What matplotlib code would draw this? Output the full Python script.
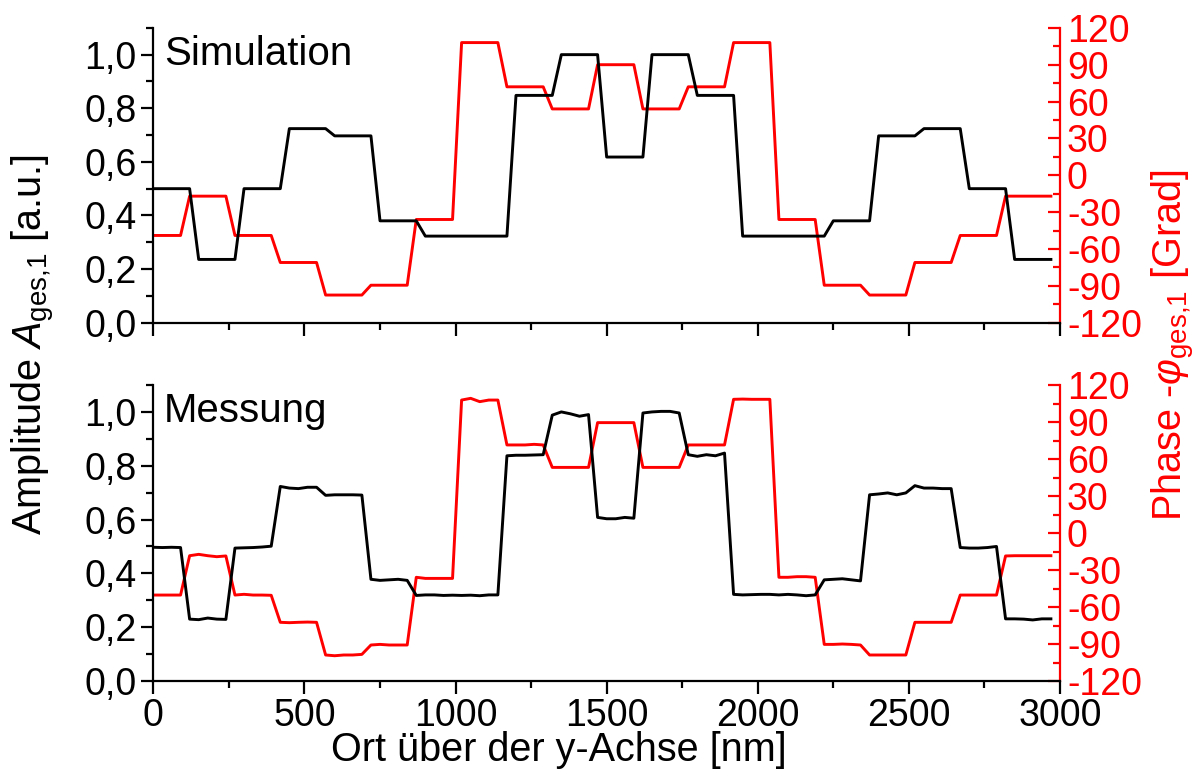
#!/usr/bin/env python3

import numpy as np
import matplotlib
matplotlib.use("Agg")
import matplotlib.pyplot as plt
from matplotlib.ticker import MultipleLocator

plt.rcParams["font.family"] = ["Liberation Sans", "DejaVu Sans"]
plt.rcParams["mathtext.fontset"] = "custom"
plt.rcParams["mathtext.rm"] = "Liberation Sans"
plt.rcParams["mathtext.it"] = "Liberation Sans:italic"
plt.rcParams["axes.unicode_minus"] = False

# position along y, 30 nm sampling
ort = np.arange(0, 3000, 30)

amp_sim = [
    0.50, 0.50, 0.50, 0.50, 0.50, 0.236, 0.236, 0.236, 0.236, 0.236,
    0.50, 0.50, 0.50, 0.50, 0.50, 0.724, 0.724, 0.724, 0.724, 0.724,
    0.697, 0.697, 0.697, 0.697, 0.697, 0.38, 0.38, 0.38, 0.38, 0.38,
    0.323, 0.323, 0.323, 0.323, 0.323, 0.323, 0.323, 0.323, 0.323, 0.323,
    0.848, 0.848, 0.848, 0.848, 0.848, 1.0, 1.0, 1.0, 1.0, 1.0,
    0.618, 0.618, 0.618, 0.618, 0.618, 1.0, 1.0, 1.0, 1.0, 1.0,
    0.848, 0.848, 0.848, 0.848, 0.848, 0.323, 0.323, 0.323, 0.323, 0.323,
    0.323, 0.323, 0.323, 0.323, 0.323, 0.38, 0.38, 0.38, 0.38, 0.38,
    0.697, 0.697, 0.697, 0.697, 0.697, 0.724, 0.724, 0.724, 0.724, 0.724,
    0.50, 0.50, 0.50, 0.50, 0.50, 0.236, 0.236, 0.236, 0.236, 0.236,
]

phase_sim = [
    -49, -49, -49, -49, -17, -17, -17, -17, -17, -49,
    -49, -49, -49, -49, -71, -71, -71, -71, -71, -97.5,
    -97.5, -97.5, -97.5, -97.5, -89.5, -89.5, -89.5, -89.5, -89.5, -36,
    -36, -36, -36, -36, 108, 108, 108, 108, 108, 72,
    72, 72, 72, 72, 54, 54, 54, 54, 54, 90,
    90, 90, 90, 90, 54, 54, 54, 54, 54, 72,
    72, 72, 72, 72, 108, 108, 108, 108, 108, -36,
    -36, -36, -36, -36, -89.5, -89.5, -89.5, -89.5, -89.5, -97.5,
    -97.5, -97.5, -97.5, -97.5, -71, -71, -71, -71, -71, -49,
    -49, -49, -49, -49, -17, -17, -17, -17, -17, -17,
]

amp_mess = [
    0.497, 0.496, 0.497, 0.496, 0.230, 0.228, 0.234, 0.230, 0.229, 0.494,
    0.495, 0.496, 0.498, 0.501, 0.723, 0.717, 0.715, 0.720, 0.720, 0.690,
    0.692, 0.692, 0.692, 0.691, 0.378, 0.374, 0.376, 0.378, 0.374, 0.318,
    0.320, 0.320, 0.318, 0.319, 0.318, 0.319, 0.317, 0.320, 0.320, 0.837,
    0.839, 0.839, 0.840, 0.841, 0.988, 1.000, 0.993, 0.984, 0.990, 0.608,
    0.603, 0.603, 0.608, 0.605, 0.996, 1.000, 1.002, 1.002, 0.996, 0.841,
    0.835, 0.841, 0.837, 0.847, 0.322, 0.320, 0.321, 0.322, 0.322, 0.320,
    0.322, 0.320, 0.317, 0.320, 0.376, 0.378, 0.380, 0.376, 0.372, 0.692,
    0.695, 0.699, 0.692, 0.699, 0.726, 0.717, 0.717, 0.715, 0.715, 0.496,
    0.494, 0.494, 0.496, 0.500, 0.231, 0.231, 0.230, 0.227, 0.231, 0.231,
]

phase_mess = [
    -50.3, -50.3, -50.3, -50.3, -18.4, -17.3, -18.4, -19.2, -18.6, -50.3,
    -49.7, -50.3, -50.3, -50.5, -72.4, -72.7, -72.4, -72.2, -72.4, -98.9,
    -99.5, -98.9, -98.9, -98.4, -90.8, -90.3, -90.8, -90.8, -90.8, -35.9,
    -36.8, -36.8, -36.8, -36.8, 107.8, 109.2, 106.5, 107.8, 107.8, 71.4,
    71.4, 71.4, 71.9, 71.4, 53.2, 53.2, 53.2, 53.2, 53.2, 89.5,
    89.5, 89.5, 89.5, 89.5, 53.2, 53.2, 53.2, 53.2, 53.2, 71.4,
    71.4, 71.4, 71.4, 71.4, 108.4, 108.6, 108.4, 108.4, 108.4, -35.9,
    -35.9, -35.4, -35.4, -35.9, -90.3, -90.3, -90.0, -90.3, -90.8, -98.9,
    -98.9, -98.9, -98.9, -98.9, -72.4, -72.4, -72.4, -72.4, -72.4, -50.3,
    -50.3, -50.3, -50.3, -50.3, -18.6, -18.4, -18.4, -18.4, -18.4, -18.4,
]

amp_ticks = [0.0, 0.2, 0.4, 0.6, 0.8, 1.0]
amp_tick_labels = ["0,0", "0,2", "0,4", "0,6", "0,8", "1,0"]
phase_ticks = [-120, -90, -60, -30, 0, 30, 60, 90, 120]
ort_ticks = [0, 500, 1000, 1500, 2000, 2500, 3000]

panels = [("Simulation", amp_sim, phase_sim), ("Messung", amp_mess, phase_mess)]

RED = "#ff0000"
FS = 27      # tick labels
LFS = 28.5   # axis labels and panel names

fig = plt.figure(figsize=(12, 7.8), dpi=100)
rects = [[0.1278, 0.5863, 0.7555, 0.378], [0.1278, 0.1269, 0.7555, 0.3795]]

for k, ((name, amp, phase), rect) in enumerate(zip(panels, rects)):
    ax = fig.add_axes(rect)
    ax2 = ax.twinx()

    ax.plot(ort, amp, color="black", linewidth=2.1)
    ax2.plot(ort, phase, color=RED, linewidth=2.1)

    ax.set_xlim(0, 3000)
    ax.set_ylim(0, 1.1)
    ax2.set_ylim(-120, 120)

    ax.set_yticks(amp_ticks)
    ax.set_yticklabels(amp_tick_labels)
    ax.yaxis.set_minor_locator(MultipleLocator(0.1))
    ax.set_xticks(ort_ticks)
    ax.xaxis.set_minor_locator(MultipleLocator(250))
    ax2.set_yticks(phase_ticks)
    ax2.yaxis.set_minor_locator(MultipleLocator(15))

    for s in ("top", "right"):
        ax.spines[s].set_visible(False)
    for s in ("top", "left", "bottom"):
        ax2.spines[s].set_visible(False)
    for s in ("left", "bottom"):
        ax.spines[s].set_linewidth(1.6)
    ax2.spines["right"].set_linewidth(1.6)
    ax2.spines["right"].set_color(RED)

    ax.tick_params(axis="both", which="major", direction="out", length=9,
                   width=1.6, labelsize=FS, pad=3)
    ax.tick_params(axis="both", which="minor", direction="out", length=5, width=1.6)
    ax2.tick_params(axis="y", which="major", direction="in", length=9, width=1.6,
                    colors=RED, labelsize=FS, pad=5)
    ax2.tick_params(axis="y", which="minor", direction="in", length=5, width=1.6,
                    colors=RED)

    if k == 0:
        ax.tick_params(axis="x", labelbottom=False)
    else:
        ax.set_xlabel("Ort über der y-Achse [nm]", fontsize=LFS, labelpad=-2,
                      x=0.447)

    ax.text(0.012, 0.975, name, transform=ax.transAxes, fontsize=LFS + 0.5,
            ha="left", va="top")

    ax.set_zorder(ax2.get_zorder() + 1)
    ax.patch.set_visible(False)

fig.text(0.028, 0.558, r"Amplitude $A_{\mathrm{ges{,}1}}$ [a.u.]", rotation=90,
         fontsize=LFS, ha="center", va="center")
fig.text(0.978, 0.558, r"Phase -$\varphi_{\mathrm{ges{,}1}}$ [Grad]", rotation=90,
         fontsize=LFS, ha="center", va="center", color=RED)

fig.savefig("out.png", dpi=100)
